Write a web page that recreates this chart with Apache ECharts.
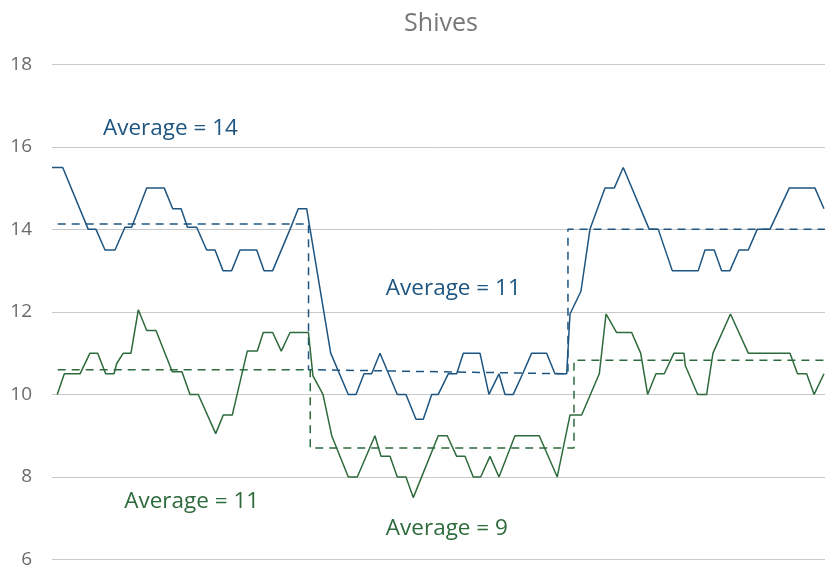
<!DOCTYPE html>
<html>
<head>
<meta charset="utf-8">
<script src="https://cdn.jsdelivr.net/npm/echarts@6/dist/echarts.min.js"></script>
<style>
  html, body { margin: 0; padding: 0; background: #ffffff; }
  #chart { width: 825px; height: 569px; }
</style>
</head>
<body>
<div id="chart"></div>
<script>
// ---- data (x = sample position, y = shives value) ----
const titleText = "Shives";

const blueX = [0, 1.26, 4.27, 5.18, 6.24, 7.42, 8.59, 9.38, 11.15, 13.22, 14.21, 15.2, 15.95, 17.03, 18.21, 19.19, 20.13, 21.15, 22.13, 24.10, 24.96, 25.98, 28.02, 28.99, 29.98, 32.81, 34.88, 35.79, 36.73, 37.63, 38.61, 40.65, 41.67, 42.85, 43.71, 44.70, 45.47, 46.65, 47.64, 48.42, 50.38, 51.44, 52.62, 53.33, 54.30, 55.41, 56.47, 58.23, 59.21, 60.59, 60.98, 62.27, 63.33, 65.10, 66.19, 67.25, 70.31, 71.37, 73.02, 76.08, 76.87, 77.96, 78.83, 79.81, 80.87, 81.97, 83.02, 84.52, 86.79, 89.82, 90.88];
const blueY = [15.5, 15.5, 14, 14, 13.5, 13.5, 14.05, 14.05, 15, 15, 14.5, 14.5, 14.05, 14.05, 13.5, 13.5, 13, 13, 13.5, 13.5, 13, 13, 14, 14.5, 14.5, 11, 10, 10, 10.5, 10.5, 11, 10, 10, 9.4, 9.4, 10, 10, 10.5, 10.5, 11, 11, 10, 10.5, 10, 10, 10.5, 11, 11, 10.5, 10.5, 11.95, 12.5, 14, 15, 15, 15.5, 14, 14, 13, 13, 13.5, 13.5, 13, 13, 13.5, 13.5, 14, 14, 15, 15, 14.5];

const greenX = [0.62, 1.45, 3.30, 4.47, 5.38, 6.32, 7.30, 7.62, 8.39, 9.30, 10.16, 11.15, 12.24, 14.16, 15.30, 16.24, 17.22, 19.27, 20.16, 21.22, 22.99, 24.17, 24.87, 25.98, 26.99, 28.02, 30.19, 30.72, 31.90, 32.93, 34.88, 35.94, 38.02, 38.73, 39.79, 40.65, 41.67, 42.53, 45.47, 46.53, 47.64, 48.62, 49.59, 50.46, 51.56, 52.62, 54.50, 57.36, 59.48, 60.98, 62.35, 64.43, 65.22, 66.47, 68.24, 69.30, 70.12, 71.10, 72.08, 73.22, 74.40, 74.55, 76.01, 77.07, 77.81, 79.87, 81.97, 86.88, 87.76, 88.84, 89.72, 90.88];
const greenY = [10, 10.5, 10.5, 11, 11, 10.5, 10.5, 10.75, 11, 11, 12.05, 11.55, 11.55, 10.55, 10.55, 10, 10, 9.05, 9.5, 9.5, 11.05, 11.05, 11.5, 11.5, 11.05, 11.5, 11.5, 10.45, 10, 9, 8, 8, 9, 8.5, 8.5, 8, 8, 7.5, 9, 9, 8.5, 8.5, 8, 8, 8.5, 8, 9, 9, 8, 9.5, 9.5, 10.5, 11.95, 11.5, 11.5, 11, 10, 10.5, 10.5, 11, 11, 10.7, 10, 10, 11, 11.95, 11, 11, 10.5, 10.5, 10, 10.5];

// period averages (step outlines)
const blueAvgX = [0.67, 30.2, 30.2, 60.74, 60.74, 91];
const blueAvgY = [14.13, 14.13, 10.6, 10.5, 14.0, 14.0];
const greenAvgX = [0.67, 30.4, 30.4, 61.45, 61.45, 91];
const greenAvgY = [10.6, 10.6, 8.7, 8.7, 10.83, 10.83];

const yTicks = { min: 6, max: 18, step: 2 };
const xRange = { min: 0, max: 91 };

const annotations = [
  { text: "Average = 14", x: 6.0, y: 16.44, color: "blue" },
  { text: "Average = 11", x: 39.3, y: 12.57, color: "blue" },
  { text: "Average = 11", x: 8.5, y: 7.4, color: "green" },
  { text: "Average = 9", x: 39.3, y: 6.74, color: "green" }
];

// ---- styling ----
const BLUE = "#1d5580";
const GREEN = "#2d6a3c";
const FONT = "'Open Sans', 'DejaVu Sans', sans-serif";

const zip = (xs, ys) => xs.map((x, i) => [x, ys[i]]);

const chart = echarts.init(document.getElementById("chart"), null, { renderer: "canvas" });

function lineSeries(name, data, color, dashed) {
  return {
    name: name,
    type: "line",
    data: data,
    showSymbol: false,
    symbol: "none",
    animation: false,
    silent: true,
    lineStyle: dashed
      ? { color: color, width: 1.5, type: [8, 6] }
      : { color: color, width: 1.5 },
    z: dashed ? 3 : 4
  };
}

const option = {
  backgroundColor: "#ffffff",
  animation: false,
  title: {
    text: titleText,
    left: 436,
    top: 6,
    textAlign: "center",
    textStyle: { color: "#777777", fontSize: 25, fontWeight: "normal", fontFamily: FONT }
  },
  grid: { left: 52, right: 0, top: 64.3, bottom: 7.3, containLabel: false },
  xAxis: {
    type: "value",
    min: xRange.min,
    max: xRange.max,
    show: false
  },
  yAxis: {
    type: "value",
    min: yTicks.min,
    max: yTicks.max,
    interval: yTicks.step,
    axisLine: { show: false },
    axisTick: { show: false },
    axisLabel: { color: "#6b6b6b", fontSize: 19, fontFamily: FONT, margin: 20 },
    splitLine: { lineStyle: { color: "#c8c8c8", width: 1 } }
  },
  series: [
    lineSeries("Blue average", zip(blueAvgX, blueAvgY), BLUE, true),
    lineSeries("Green average", zip(greenAvgX, greenAvgY), GREEN, true),
    lineSeries("Green", zip(greenX, greenY), GREEN, false),
    lineSeries("Blue", zip(blueX, blueY), BLUE, false),
    {
      type: "scatter",
      symbolSize: 0,
      silent: true,
      animation: false,
      itemStyle: { opacity: 1 },
      data: annotations.map(a => ({
        value: [a.x, a.y],
        label: {
          show: true,
          position: "right",
          distance: 0,
          formatter: a.text,
          color: a.color === "blue" ? BLUE : GREEN,
          opacity: 1,
          fontSize: 22.5,
          fontFamily: FONT
        }
      })),
      z: 5
    }
  ]
};

chart.setOption(option);
</script>
</body>
</html>
